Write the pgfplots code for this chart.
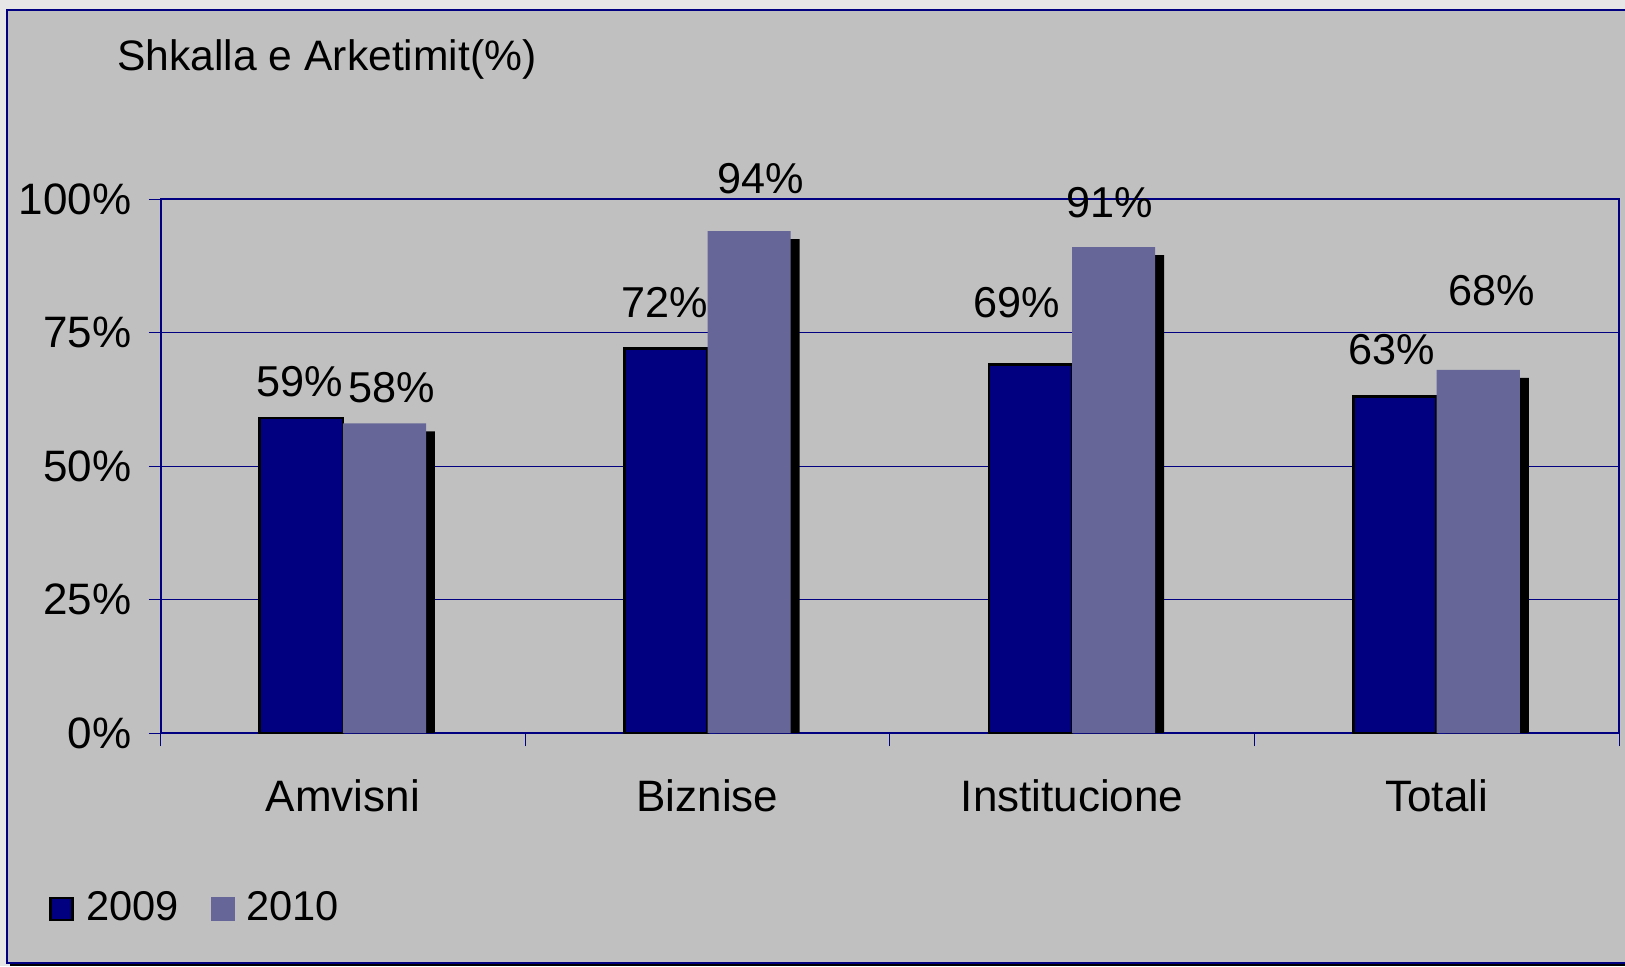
\documentclass[border=0pt]{standalone}
\usepackage{pgfplots}
\pgfplotsset{compat=1.18}
\usepackage{fontspec}
\setmainfont{Liberation Sans}
\definecolor{bg}{HTML}{C0C0C0}
\definecolor{navy}{HTML}{000080}
\definecolor{lav}{HTML}{666699}
\definecolor{outer}{HTML}{E6E6E6}
\begin{document}
\fontsize{22}{26}\selectfont
\begin{tikzpicture}
\path[use as bounding box] (0,0) rectangle (812.5pt,483pt);
\fill[outer] (0,0) rectangle (812.5pt,483pt);
\fill[black] (5pt,0pt) rectangle (815pt,476pt);
\fill[bg] (3.5pt,1.5pt) rectangle (815pt,478pt);
\draw[navy,line width=0.9pt] (815pt,1.5pt) -- (3.5pt,1.5pt) -- (3.5pt,478pt) -- (815pt,478pt);
\node[anchor=west,inner sep=0pt,font=\fontsize{21.3}{25}\selectfont] at (58.5pt,453.5pt) {Shkalla e Arketimit(\%)};
\begin{axis}[
  at={(80.3pt,116.5pt)}, anchor=south west,
  scale only axis, width=729.2pt, height=267pt,
  xmin=-0.5, xmax=3.5, ymin=0, ymax=100,
  clip=false,
  axis line style={navy,line width=1.1pt},
  xtick={0,1,2,3},
  xticklabels={Amvisni,Biznise,Institucione,Totali},
  minor xtick={-0.5,0.5,1.5,2.5,3.5},
  major x tick style={draw=none},
  minor x tick style={navy,line width=0.5pt},
  minor tick length=6.5pt,
  ytick={0,25,50,75,100},
  yticklabels={0\%,25\%,50\%,75\%,100\%},
  y tick style={navy,line width=0.5pt},
  major tick length=6pt,
  tick align=outside,
  xtick pos=bottom, ytick pos=left,
  ymajorgrids,
  grid style={navy,line width=0.5pt},
  xticklabel style={inner sep=0pt,anchor=north,yshift=-17pt},
  yticklabel style={inner sep=0pt,anchor=east,xshift=-8.5pt},
  tick label style={font=\fontsize{22}{26}\selectfont},
  legend columns=2,
  legend style={at={(axis description cs:-0.0765,-0.3296)},anchor=west,
    draw=none,fill=none,inner sep=0pt,
    nodes={inner sep=0pt,font=\fontsize{20.8}{24}\selectfont},
    /tikz/every odd column/.append style={column sep=6pt},
    /tikz/every even column/.append style={column sep=16pt}},
]
% shadow
\addplot[ybar,bar width=0.228,bar shift=0.1385,fill=black,draw=none,forget plot]
  coordinates {(0,56.5) (1,92.5) (2,89.5) (3,66.5)};
\addplot[ybar,bar width=0.228,bar shift=-0.114,fill=navy,draw=black,line width=1.3pt,
  legend image code/.code={\draw[fill=navy,draw=black,line width=1.3pt] (0pt,-5.5pt) rectangle (11pt,5.5pt);}]
  coordinates {(0,59) (1,72) (2,69) (3,63)};
\addlegendentry{2009}
\addplot[ybar,bar width=0.228,bar shift=0.114,fill=lav,draw=none,
  legend image code/.code={\fill[lav] (0pt,-6pt) rectangle (12pt,6pt);}]
  coordinates {(0,58) (1,94) (2,91) (3,68)};
\addlegendentry{2010}
% value labels
\addplot[draw=none,mark=none,forget plot,point meta=explicit symbolic,
  nodes near coords={\pgfplotspointmeta\%},
  every node near coord/.append style={anchor=center,inner sep=0pt,font=\fontsize{21.6}{26}\selectfont}]
  coordinates {(-0.119,65.8)[59] (0.134,64.7)[58] (0.882,80.6)[72] (1.146,103.9)[94]
               (1.848,80.6)[69] (2.104,99.4)[91] (2.877,71.8)[63] (3.150,82.9)[68]};
\end{axis}
\end{tikzpicture}
\end{document}
